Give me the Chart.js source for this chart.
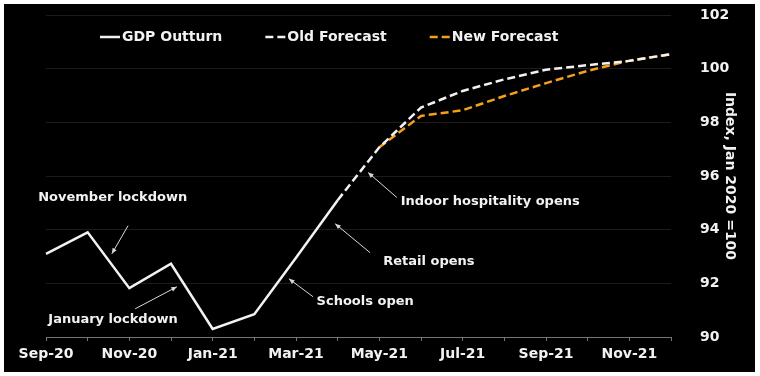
<!DOCTYPE html>
<html>
<head>
<meta charset="utf-8">
<script src="https://cdn.jsdelivr.net/npm/chart.js@4.4.0/dist/chart.umd.min.js"></script>
<style>
    html, body { margin: 0; padding: 0; background: #fff; }
    #wrap { position: absolute; left: 4px; top: 4px; width: 751px; height: 368px; background: #000; }
</style>
</head>
<body>
<div id="wrap"><canvas id="chart"></canvas></div>
<script>
// Monthly index, Jan 2020 = 100
const months = ['Sep-20', 'Oct-20', 'Nov-20', 'Dec-20', 'Jan-21', 'Feb-21', 'Mar-21', 'Apr-21',
                'May-21', 'Jun-21', 'Jul-21', 'Aug-21', 'Sep-21', 'Oct-21', 'Nov-21', 'Dec-21'];
const gdpOutturn  = [93.1, 93.9, 91.82, 92.73, 90.3, 90.85, 92.95, 95.1,
                     null, null, null, null, null, null, null, null];
const oldForecast = [null, null, null, null, null, null, null, 95.1,
                     97.07, 98.55, 99.17, 99.6, 99.96, 100.13, 100.29, 100.54];
const newForecast = [null, null, null, null, null, null, null, null,
                     97.07, 98.24, 98.45, 98.98, 99.46, 99.92, 100.3, 100.54];
const yTicks = [90, 92, 94, 96, 98, 100, 102];

const FONT = '"DejaVu Sans", sans-serif';
const WHITE = '#f2f2f2';
const ORANGE = '#f5a01a';

// Annotations in data units: [month index, value]
const notes = [
    { text: 'November lockdown',        at: [1.6, 95.2],   from: [1.97, 94.15], to: [1.58, 93.1] },
    { text: 'January lockdown',         at: [1.61, 90.64], from: [2.14, 91.05], to: [3.14, 91.87] },
    { text: 'Schools open',             at: [7.66, 91.31], from: [6.41, 91.5],  to: [5.83, 92.17] },
    { text: 'Retail opens',             at: [9.19, 92.8],  from: [7.78, 93.14], to: [6.94, 94.22] },
    { text: 'Indoor hospitality opens', at: [10.66, 95.05], from: [8.42, 95.2], to: [7.73, 96.13] },
];

const notesPlugin = {
    id: 'notes',
    afterDatasetsDraw(chart) {
        const { ctx, scales: { x, y } } = chart;
        ctx.save();
        ctx.font = 'bold 13px ' + FONT;
        ctx.textAlign = 'center';
        ctx.textBaseline = 'middle';
        notes.forEach(n => {
            ctx.fillStyle = WHITE;
            ctx.fillText(n.text, x.getPixelForValue(n.at[0]), y.getPixelForValue(n.at[1]));
            const x1 = x.getPixelForValue(n.from[0]), y1 = y.getPixelForValue(n.from[1]);
            const x2 = x.getPixelForValue(n.to[0]),   y2 = y.getPixelForValue(n.to[1]);
            ctx.strokeStyle = '#d8d8d8';
            ctx.lineWidth = 1;
            ctx.beginPath();
            ctx.moveTo(x1, y1);
            ctx.lineTo(x2, y2);
            ctx.stroke();
            // arrow head
            const a = Math.atan2(y2 - y1, x2 - x1);
            ctx.fillStyle = '#d8d8d8';
            ctx.beginPath();
            ctx.moveTo(x2, y2);
            ctx.lineTo(x2 - 6 * Math.cos(a - 0.4), y2 - 6 * Math.sin(a - 0.4));
            ctx.lineTo(x2 - 6 * Math.cos(a + 0.4), y2 - 6 * Math.sin(a + 0.4));
            ctx.closePath();
            ctx.fill();
        });
        ctx.restore();
    }
};

// Legend sits inside the plot area, so it is drawn by hand
const legendPlugin = {
    id: 'insideLegend',
    afterDraw(chart) {
        const { ctx } = chart;
        ctx.save();
        ctx.font = 'bold 14px ' + FONT;
        ctx.textBaseline = 'middle';
        let cx = 96;
        const cy = 33;
        chart.data.datasets.forEach(ds => {
            ctx.strokeStyle = ds.borderColor;
            ctx.lineWidth = 2.5;
            ctx.setLineDash(ds.borderDash || []);
            ctx.beginPath();
            ctx.moveTo(cx, cy);
            ctx.lineTo(cx + 20, cy);
            ctx.stroke();
            ctx.setLineDash([]);
            ctx.fillStyle = WHITE;
            ctx.fillText(ds.label, cx + 22, cy);
            cx += 22 + ctx.measureText(ds.label).width + 43;
        });
        ctx.restore();
    }
};

new Chart(document.getElementById('chart'), {
    type: 'line',
    data: {
        labels: months,
        datasets: [
            { label: 'GDP Outturn', data: gdpOutturn, borderColor: WHITE, borderWidth: 2.5 },
            { label: 'Old Forecast', data: oldForecast, borderColor: WHITE, borderWidth: 2.5, borderDash: [8, 4] },
            { label: 'New Forecast', data: newForecast, borderColor: ORANGE, borderWidth: 2.5, borderDash: [8, 4] },
        ],
    },
    options: {
        responsive: true,
        maintainAspectRatio: false,
        animation: false,
        layout: { padding: { left: 42, top: 11, right: 0, bottom: 0 } },
        elements: { point: { radius: 0 }, line: { tension: 0, borderJoinStyle: 'miter' } },
        plugins: { legend: { display: false }, tooltip: { enabled: false } },
        scales: {
            x: {
                grid: { display: true, drawOnChartArea: false, color: '#777', tickLength: 4 },
                border: { color: '#777' },
                ticks: {
                    autoSkip: false, maxRotation: 0, padding: 5,
                    color: WHITE, font: { family: FONT, size: 14, weight: 'bold' },
                    callback: (v, i) => (i % 2 === 0 ? months[i] : ''),
                },
                afterFit: s => { s.height = 35; },
            },
            y: {
                position: 'right',
                min: 90, max: 102,
                afterBuildTicks: s => { s.ticks = yTicks.map(v => ({ value: v })); },
                grid: { color: '#1c1c1c', drawTicks: true, tickLength: 29, tickColor: 'rgba(0,0,0,0)' },
                border: { display: false },
                ticks: { padding: 0, color: WHITE, font: { family: FONT, size: 14, weight: 'bold' } },
                title: {
                    display: true, text: 'Index, Jan 2020 =100', color: WHITE,
                    font: { family: FONT, size: 14, weight: 'bold' },
                    padding: { top: 17, bottom: 0 },
                },
                afterFit: s => { s.width = 84; },
            },
        },
    },
    plugins: [notesPlugin, legendPlugin],
});
</script>
</body>
</html>
